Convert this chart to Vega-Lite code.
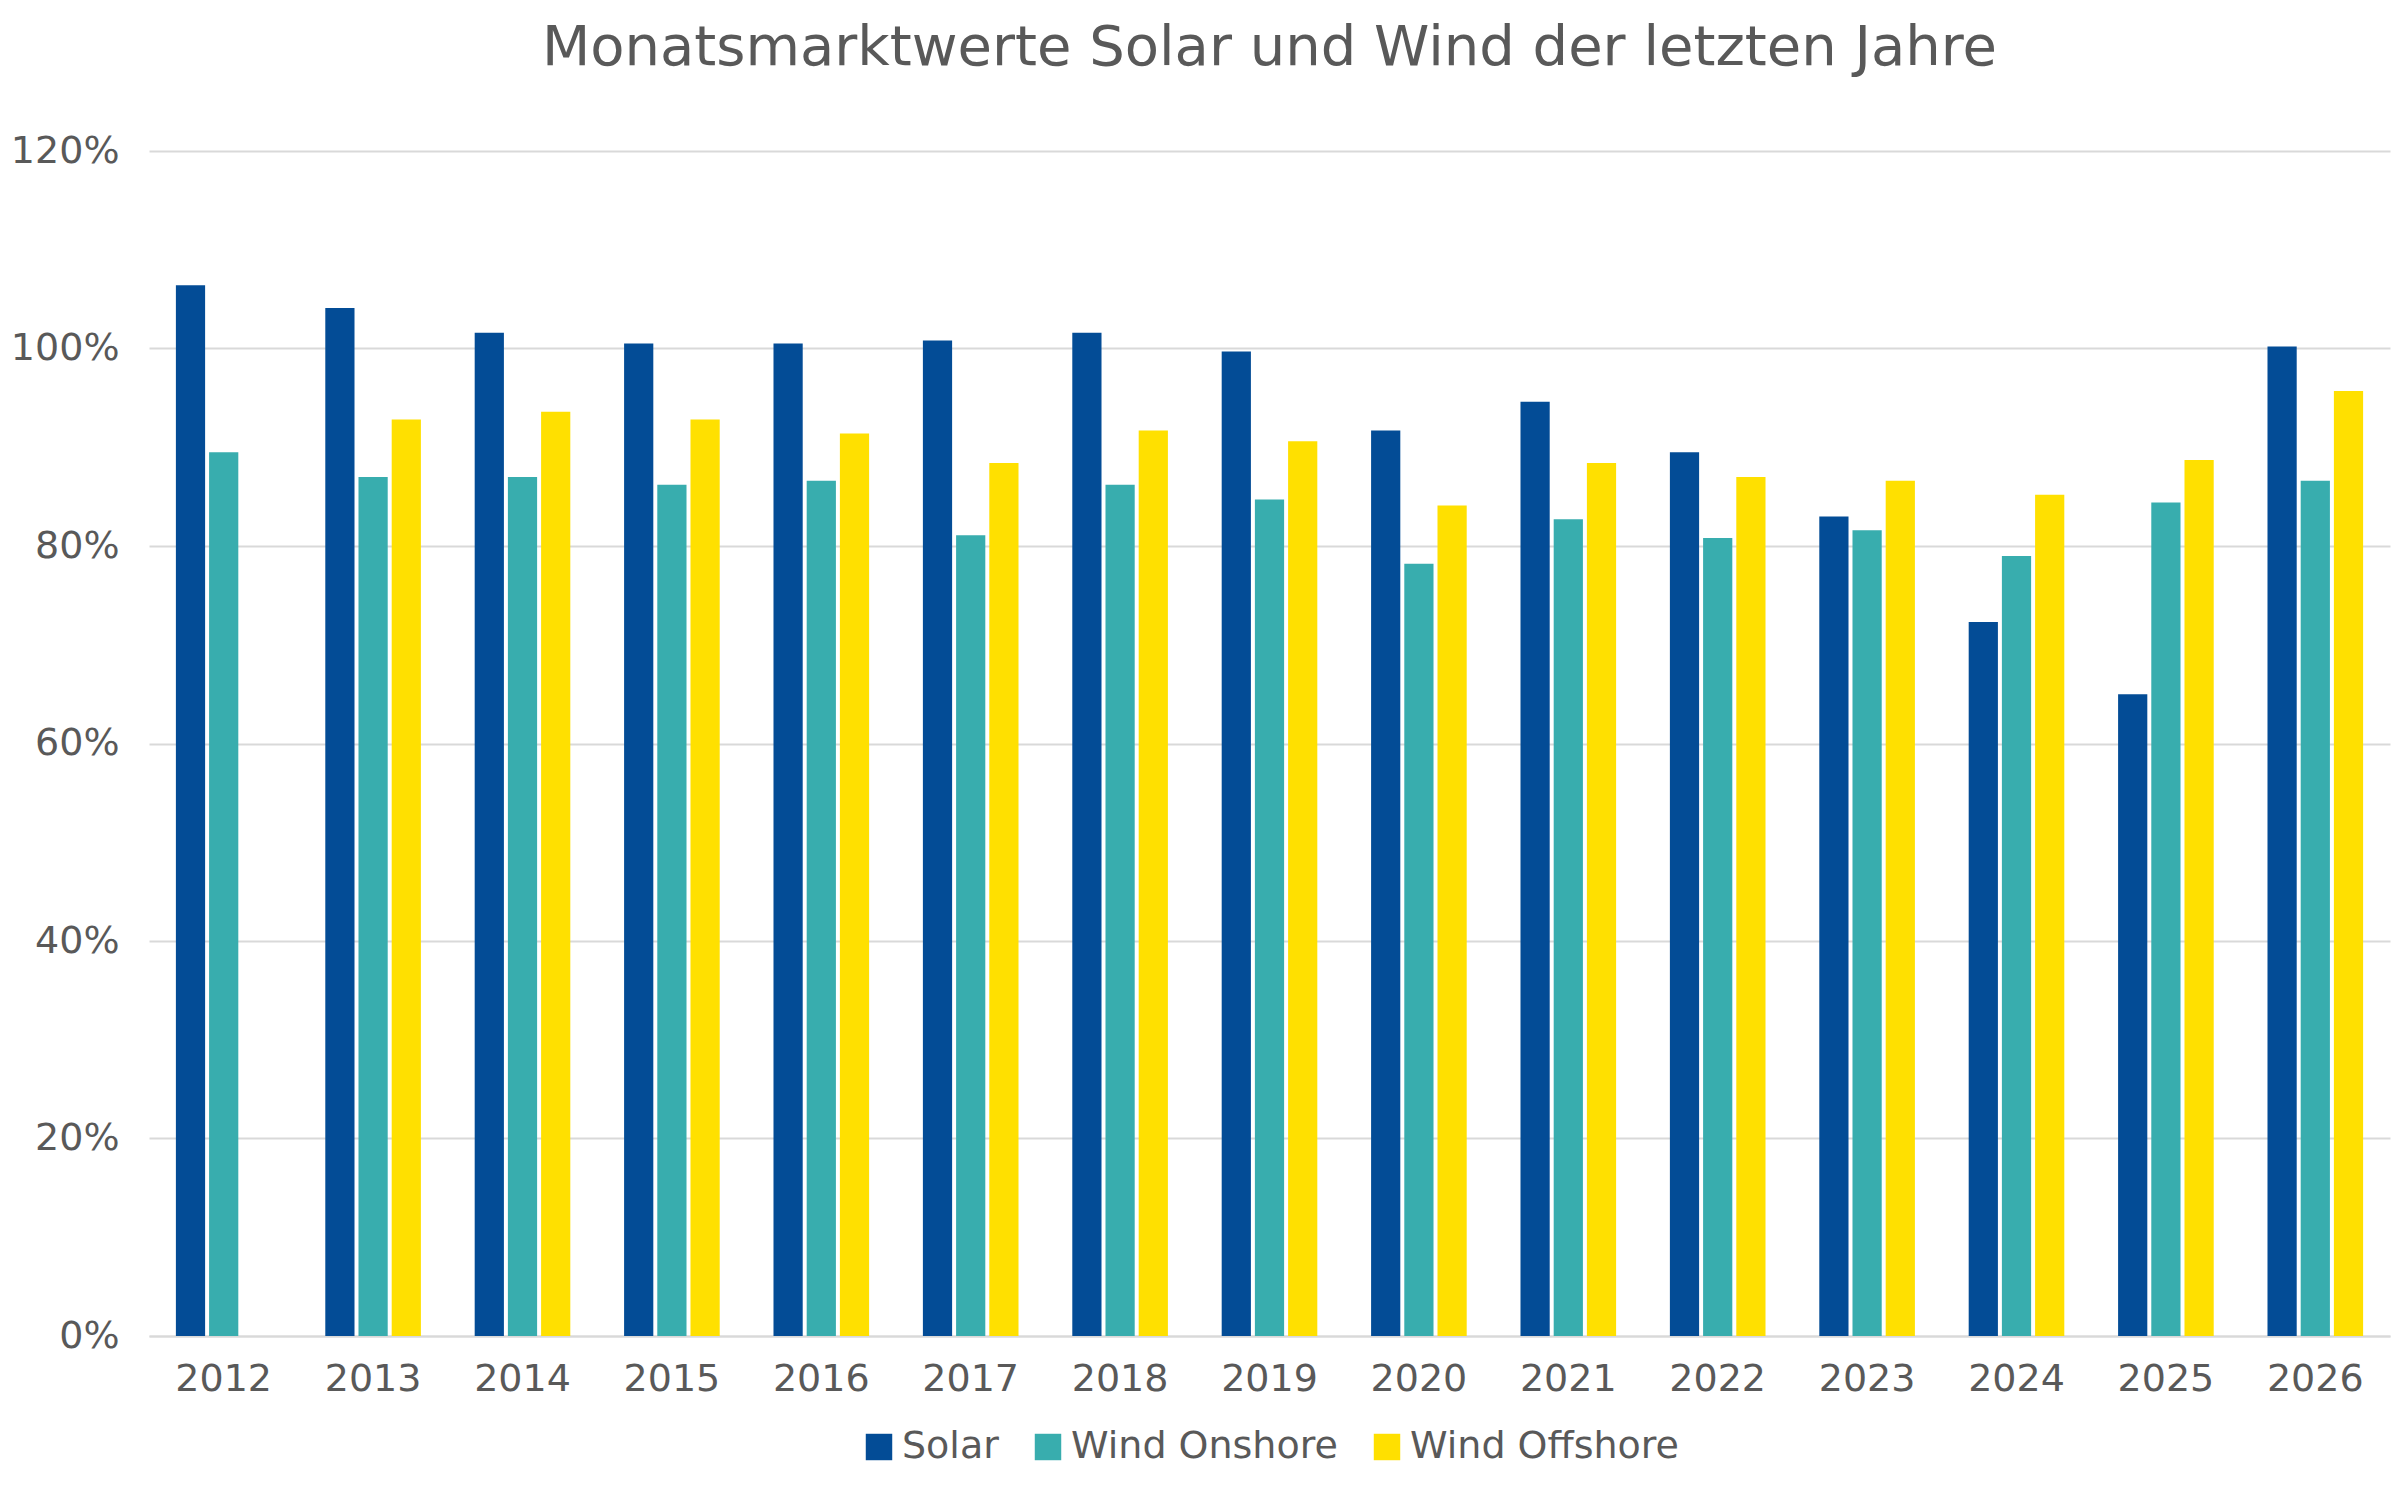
{
  "$schema": "https://vega.github.io/schema/vega-lite/v6.json",
  "width": 2400,
  "height": 1486,
  "autosize": {"type": "fit", "contains": "padding"},
  "padding": {"left": 10, "right": 10, "top": 20, "bottom": 20},
  "background": "white",
  "title": {
    "text": "Monatsmarktwerte Solar und Wind der letzten Jahre",
    "font": "DejaVu Sans",
    "fontSize": 56,
    "fontWeight": "normal",
    "color": "#595959",
    "offset": 55
  },
  "data": {
    "values": [
      {"Jahr": "2012", "Typ": "Solar", "Wert": 1.064},
      {"Jahr": "2012", "Typ": "Wind Onshore", "Wert": 0.895},
      {"Jahr": "2013", "Typ": "Solar", "Wert": 1.041},
      {"Jahr": "2013", "Typ": "Wind Onshore", "Wert": 0.870},
      {"Jahr": "2013", "Typ": "Wind Offshore", "Wert": 0.928},
      {"Jahr": "2014", "Typ": "Solar", "Wert": 1.016},
      {"Jahr": "2014", "Typ": "Wind Onshore", "Wert": 0.870},
      {"Jahr": "2014", "Typ": "Wind Offshore", "Wert": 0.936},
      {"Jahr": "2015", "Typ": "Solar", "Wert": 1.005},
      {"Jahr": "2015", "Typ": "Wind Onshore", "Wert": 0.862},
      {"Jahr": "2015", "Typ": "Wind Offshore", "Wert": 0.928},
      {"Jahr": "2016", "Typ": "Solar", "Wert": 1.005},
      {"Jahr": "2016", "Typ": "Wind Onshore", "Wert": 0.866},
      {"Jahr": "2016", "Typ": "Wind Offshore", "Wert": 0.914},
      {"Jahr": "2017", "Typ": "Solar", "Wert": 1.008},
      {"Jahr": "2017", "Typ": "Wind Onshore", "Wert": 0.811},
      {"Jahr": "2017", "Typ": "Wind Offshore", "Wert": 0.884},
      {"Jahr": "2018", "Typ": "Solar", "Wert": 1.016},
      {"Jahr": "2018", "Typ": "Wind Onshore", "Wert": 0.862},
      {"Jahr": "2018", "Typ": "Wind Offshore", "Wert": 0.917},
      {"Jahr": "2019", "Typ": "Solar", "Wert": 0.997},
      {"Jahr": "2019", "Typ": "Wind Onshore", "Wert": 0.847},
      {"Jahr": "2019", "Typ": "Wind Offshore", "Wert": 0.906},
      {"Jahr": "2020", "Typ": "Solar", "Wert": 0.917},
      {"Jahr": "2020", "Typ": "Wind Onshore", "Wert": 0.782},
      {"Jahr": "2020", "Typ": "Wind Offshore", "Wert": 0.841},
      {"Jahr": "2021", "Typ": "Solar", "Wert": 0.946},
      {"Jahr": "2021", "Typ": "Wind Onshore", "Wert": 0.827},
      {"Jahr": "2021", "Typ": "Wind Offshore", "Wert": 0.884},
      {"Jahr": "2022", "Typ": "Solar", "Wert": 0.895},
      {"Jahr": "2022", "Typ": "Wind Onshore", "Wert": 0.808},
      {"Jahr": "2022", "Typ": "Wind Offshore", "Wert": 0.870},
      {"Jahr": "2023", "Typ": "Solar", "Wert": 0.830},
      {"Jahr": "2023", "Typ": "Wind Onshore", "Wert": 0.816},
      {"Jahr": "2023", "Typ": "Wind Offshore", "Wert": 0.866},
      {"Jahr": "2024", "Typ": "Solar", "Wert": 0.723},
      {"Jahr": "2024", "Typ": "Wind Onshore", "Wert": 0.790},
      {"Jahr": "2024", "Typ": "Wind Offshore", "Wert": 0.852},
      {"Jahr": "2025", "Typ": "Solar", "Wert": 0.650},
      {"Jahr": "2025", "Typ": "Wind Onshore", "Wert": 0.844},
      {"Jahr": "2025", "Typ": "Wind Offshore", "Wert": 0.887},
      {"Jahr": "2026", "Typ": "Solar", "Wert": 1.002},
      {"Jahr": "2026", "Typ": "Wind Onshore", "Wert": 0.866},
      {"Jahr": "2026", "Typ": "Wind Offshore", "Wert": 0.957}
    ]
  },
  "mark": {"type": "bar"},
  "encoding": {
    "x": {
      "field": "Jahr",
      "type": "nominal",
      "title": null,
      "scale": {"paddingInner": 0.36, "paddingOuter": 0.18},
      "axis": {
        "labelAngle": 0,
        "labelFont": "DejaVu Sans",
        "labelFontSize": 38,
        "labelColor": "#595959",
        "labelPadding": 24,
        "domainColor": "#D9D9D9",
        "domainWidth": 2,
        "ticks": false
      }
    },
    "xOffset": {
      "field": "Typ",
      "type": "nominal",
      "sort": ["Solar", "Wind Onshore", "Wind Offshore"],
      "scale": {"domain": ["Solar", "Wind Onshore", "Wind Offshore"], "paddingInner": 0.12}
    },
    "y": {
      "field": "Wert",
      "type": "quantitative",
      "title": null,
      "scale": {"domain": [0, 1.2], "nice": false},
      "axis": {
        "format": ".0%",
        "values": [0, 0.2, 0.4, 0.6, 0.8, 1.0, 1.2],
        "labelFont": "DejaVu Sans",
        "labelFontSize": 38,
        "labelColor": "#595959",
        "labelPadding": 30,
        "domain": false,
        "ticks": false,
        "gridColor": "#D9D9D9",
        "gridWidth": 2
      }
    },
    "color": {
      "field": "Typ",
      "type": "nominal",
      "title": null,
      "sort": ["Solar", "Wind Onshore", "Wind Offshore"],
      "scale": {
        "domain": ["Solar", "Wind Onshore", "Wind Offshore"],
        "range": ["#034C96", "#38ADAE", "#FFE000"]
      },
      "legend": {
        "orient": "bottom",
        "direction": "horizontal",
        "symbolType": "square",
        "symbolSize": 700,
        "labelFont": "DejaVu Sans",
        "labelFontSize": 38,
        "labelColor": "#595959",
        "labelLimit": 600,
        "columnPadding": 30,
        "offset": 30,
        "layout": {"bottom": {"anchor": "middle"}}
      }
    }
  },
  "config": {"view": {"stroke": null}, "legend": {"layout": {"bottom": {"anchor": "middle"}}}}
}
